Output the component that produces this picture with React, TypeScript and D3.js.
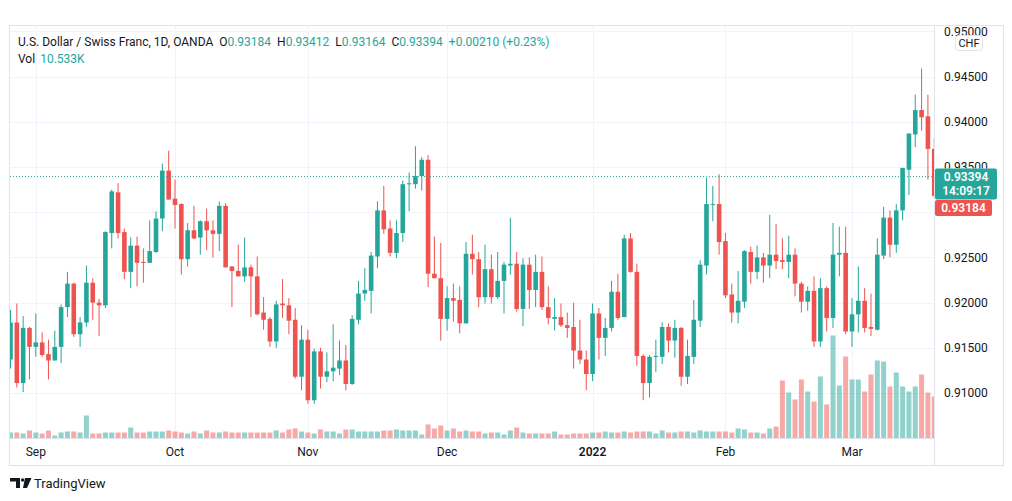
import React from "react";
import * as d3 from "d3";

// ---- Data (USD/CHF daily, OANDA) ----
const opens = [
  0.9137, 0.9178, 0.9111, 0.9172, 0.9151, 0.9156, 0.9143, 0.9136, 0.9151, 0.9195,
  0.9221, 0.9165, 0.9178, 0.9222, 0.92, 0.9197, 0.9277, 0.9322, 0.9278, 0.9234,
  0.9263, 0.9245, 0.9244, 0.9256, 0.9293, 0.9346, 0.9315, 0.9309, 0.9248, 0.928,
  0.9272, 0.929, 0.928, 0.9276, 0.9307, 0.924, 0.9235, 0.9229, 0.9239, 0.9229,
  0.9189, 0.9182, 0.9157, 0.9199, 0.9197, 0.9181, 0.9118, 0.9159, 0.9092, 0.9146,
  0.9118, 0.9124, 0.9127, 0.9136, 0.911, 0.9181, 0.921, 0.9213, 0.9251, 0.9302,
  0.9282, 0.9255, 0.9277, 0.9331, 0.9331, 0.934, 0.9358, 0.9232, 0.9227, 0.9182,
  0.9205, 0.9203, 0.9177, 0.9254, 0.9248, 0.9206, 0.9237, 0.9206, 0.9224, 0.9241,
  0.9243, 0.9193, 0.9242, 0.9214, 0.9234, 0.9195, 0.9182, 0.9184, 0.9175, 0.9173,
  0.9147, 0.9137, 0.9121, 0.9188, 0.9161, 0.9172, 0.9212, 0.9184, 0.9271, 0.9234,
  0.9141, 0.9111, 0.914, 0.914, 0.9173, 0.9158, 0.9172, 0.9118, 0.914, 0.918,
  0.9241, 0.9308, 0.9309, 0.9268, 0.9209, 0.9189, 0.9201, 0.9256, 0.9234, 0.925,
  0.9241, 0.9253, 0.9247, 0.9245, 0.9253, 0.9221, 0.9201, 0.9213, 0.9157, 0.9216,
  0.9183, 0.9253, 0.9255, 0.9168, 0.9187, 0.9202, 0.9173, 0.917, 0.9252, 0.9294,
  0.9264, 0.9302, 0.9347, 0.9386, 0.9413, 0.9406, 0.937, 0.93184,
];
const highs = [
  0.9192, 0.9199, 0.9185, 0.9173, 0.9188, 0.9167, 0.9159, 0.9169, 0.9198, 0.9234,
  0.9222, 0.9184, 0.9241, 0.9227, 0.9204, 0.9279, 0.9325, 0.9332, 0.9282, 0.9272,
  0.9273, 0.926, 0.9291, 0.9301, 0.9354, 0.9368, 0.9336, 0.931, 0.9288, 0.9307,
  0.9291, 0.9304, 0.9291, 0.9312, 0.931, 0.924, 0.9264, 0.9272, 0.9242, 0.9251,
  0.9206, 0.9184, 0.9202, 0.9226, 0.9205, 0.9194, 0.9175, 0.917, 0.9149, 0.915,
  0.9145, 0.9176, 0.9158, 0.9153, 0.9186, 0.9224, 0.9238, 0.9256, 0.9312, 0.9329,
  0.9291, 0.9291, 0.9335, 0.9344, 0.9373, 0.9361, 0.9363, 0.9273, 0.9266, 0.9218,
  0.9221, 0.9218, 0.9267, 0.9275, 0.9256, 0.9264, 0.9253, 0.9256, 0.9245, 0.9294,
  0.9256, 0.9249, 0.925, 0.9253, 0.9251, 0.9218, 0.9205, 0.9199, 0.9189, 0.92,
  0.9181, 0.9147, 0.9199, 0.9194, 0.9183, 0.9224, 0.9232, 0.9275, 0.9277, 0.9243,
  0.9143, 0.9142, 0.9159, 0.9178, 0.9177, 0.9181, 0.9173, 0.9159, 0.9203, 0.9247,
  0.9338, 0.9329, 0.9342, 0.9277, 0.9221, 0.9235, 0.9258, 0.9262, 0.9263, 0.9255,
  0.9297, 0.9287, 0.9271, 0.9274, 0.926, 0.9223, 0.9218, 0.9229, 0.9227, 0.9218,
  0.9288, 0.9284, 0.9284, 0.9205, 0.924, 0.9216, 0.921, 0.9271, 0.9306, 0.9302,
  0.9309, 0.9349, 0.9387, 0.943, 0.9459, 0.943, 0.9382, 0.93412,
];
const lows = [
  0.9127, 0.9106, 0.9101, 0.9115, 0.914, 0.914, 0.9115, 0.9136, 0.9133, 0.9184,
  0.9162, 0.9151, 0.9173, 0.9181, 0.9163, 0.9194, 0.926, 0.9271, 0.9226, 0.9216,
  0.9218, 0.9222, 0.9244, 0.9255, 0.9279, 0.9314, 0.9282, 0.9231, 0.924, 0.927,
  0.9253, 0.9258, 0.925, 0.9257, 0.9239, 0.9195, 0.9229, 0.9223, 0.9184, 0.9186,
  0.917, 0.9151, 0.915, 0.9183, 0.9165, 0.9116, 0.9103, 0.9088, 0.9088, 0.9105,
  0.9112, 0.9113, 0.912, 0.9103, 0.9109, 0.9176, 0.9202, 0.9188, 0.9238, 0.9276,
  0.9251, 0.9249, 0.9267, 0.9301, 0.9326, 0.9324, 0.9217, 0.9227, 0.9158, 0.9169,
  0.9179, 0.9166, 0.9177, 0.9231, 0.9195, 0.9199, 0.9199, 0.9204, 0.9188, 0.9231,
  0.919, 0.9174, 0.9193, 0.9195, 0.9192, 0.9176, 0.9169, 0.9173, 0.9161, 0.9127,
  0.9132, 0.9103, 0.9113, 0.9137, 0.9141, 0.9168, 0.9181, 0.9184, 0.9233, 0.913,
  0.9092, 0.9095, 0.9123, 0.9132, 0.9145, 0.9139, 0.9108, 0.911, 0.9132, 0.9173,
  0.9231, 0.929, 0.9253, 0.9205, 0.9178, 0.9177, 0.9194, 0.9221, 0.9226, 0.9222,
  0.9227, 0.9237, 0.9237, 0.9227, 0.9207, 0.9189, 0.9191, 0.9151, 0.9151, 0.9168,
  0.9172, 0.9229, 0.9165, 0.9151, 0.9167, 0.9167, 0.9163, 0.9169, 0.9248, 0.925,
  0.9255, 0.9291, 0.9319, 0.9372, 0.939, 0.9336, 0.9316, 0.93164,
];
const closes = [
  0.9178, 0.9111, 0.9172, 0.9151, 0.9156, 0.9142, 0.9136, 0.9151, 0.9195, 0.9221,
  0.9165, 0.9178, 0.9222, 0.92, 0.9197, 0.9278, 0.9323, 0.9277, 0.9234, 0.9263,
  0.9244, 0.9244, 0.9257, 0.9293, 0.9346, 0.9314, 0.9308, 0.9248, 0.928, 0.9271,
  0.929, 0.928, 0.9276, 0.9307, 0.9239, 0.9235, 0.9229, 0.9239, 0.9229, 0.9187,
  0.9181, 0.9157, 0.9198, 0.9197, 0.918, 0.9118, 0.9159, 0.9092, 0.9146, 0.9118,
  0.9124, 0.9128, 0.9136, 0.911, 0.9182, 0.921, 0.9214, 0.9252, 0.9302, 0.9281,
  0.9255, 0.9277, 0.9331, 0.9332, 0.934, 0.9358, 0.9232, 0.9227, 0.9182, 0.9205,
  0.9202, 0.9177, 0.9254, 0.9248, 0.9206, 0.9237, 0.9206, 0.9224, 0.9242, 0.9243,
  0.9193, 0.9242, 0.9214, 0.9234, 0.9195, 0.9183, 0.9184, 0.9175, 0.9172, 0.9147,
  0.9137, 0.9121, 0.9188, 0.9161, 0.9172, 0.9212, 0.9183, 0.9271, 0.9234, 0.9141,
  0.9111, 0.914, 0.9141, 0.9173, 0.9158, 0.9172, 0.9118, 0.9141, 0.9181, 0.9242,
  0.9309, 0.9309, 0.9267, 0.9208, 0.9189, 0.9202, 0.9257, 0.9234, 0.925, 0.9241,
  0.9253, 0.9246, 0.9245, 0.9253, 0.9221, 0.9201, 0.9213, 0.9157, 0.9216, 0.9183,
  0.9253, 0.9255, 0.9168, 0.9187, 0.9202, 0.9172, 0.9171, 0.9253, 0.9294, 0.9264,
  0.9302, 0.9349, 0.9387, 0.9413, 0.9405, 0.937, 0.9318, 0.93394,
];
// volume in thousands
const volumes = [
  3, 3, 2.5, 4, 3, 2.5, 4, 1.5, 3, 3.5,
  3.5, 3, 11.5, 2.5, 2.5, 3, 3, 3, 3, 5.5,
  3, 3, 3.5, 3.5, 3.5, 4, 3.5, 3, 2.5, 3.5,
  2.5, 4, 3, 3, 3.5, 3, 3, 3, 3, 3,
  3, 3, 4, 3, 4.5, 5, 3.5, 3, 2.5, 4.5,
  3.5, 3.5, 2.5, 4.5, 4.5, 3.5, 3.5, 3.5, 3.5, 4,
  4, 4.5, 4, 4, 4, 2, 7, 5, 6.5, 4,
  5, 3.5, 4, 3.5, 3.5, 2.5, 3, 3, 2, 4,
  5.5, 3, 2.5, 2.5, 2.5, 2.5, 3.5, 2, 2, 2.5,
  2.5, 2.5, 3, 3, 3.5, 3, 3, 3.5, 3, 3.5,
  3.5, 3.5, 2.5, 4, 3, 3, 3.5, 3.5, 3, 4,
  3.5, 3.5, 3.5, 3.5, 3, 5, 4.5, 3, 3, 2.5,
  5, 6, 29, 23, 19.5, 29.5, 23.5, 18.5, 31, 17,
  51.5, 26.5, 41, 29.5, 29.5, 23.5, 32, 39, 38.5, 26,
  33, 26, 23.5, 26, 32, 23, 21, 10.533,
];
const monthLabels = ["Sep", "Oct", "Nov", "Dec", "2022", "Feb", "Mar"];
const monthBarIndex = [4, 26, 47, 69, 92, 113, 133];
const priceTicks = [0.91, 0.915, 0.92, 0.925, 0.93, 0.935, 0.94, 0.945, 0.95];
const symbolTitle = "U.S. Dollar / Swiss Franc, 1D, OANDA";
const lastPrice = 0.93394;
const prevClose = 0.93184;
const countdown = "14:09:17";
const changeText = "+0.00210 (+0.23%)";
const volText = "10.533K";
const currency = "CHF";

const UP = "#26a69a";
const DOWN = "#ef5350";
const UP_V = "rgba(38,166,154,0.5)";
const DOWN_V = "rgba(239,83,80,0.5)";
const TXT = "#131722";
const GRID = "#f0f3fa";
const BORDER = "#e0e3eb";
const FONT = "Roboto, 'Open Sans', sans-serif";

export default function App() {
  const W = 1012;
  const H = 501;
  const paneL = 10, paneR = 934.5, paneT = 26, paneB = 438.5;
  const n = opens.length;
  const x = d3.scaleLinear().domain([0, n - 1]).range([10.5, 10.5 + (n - 1) * 6.327]);
  const y = d3.scaleLinear().domain([0.905, 0.95]).range([438.2, 31.4]);
  const vh = d3.scaleLinear().domain([0, 60]).range([0, 120]);
  const bodyW = 4.6;
  const volW = 5;
  const fmt = d3.format(".5f");

  const idx = d3.range(n);
  const lastY = y(lastPrice);
  // axis tick labels hidden beneath the price badges are not drawn
  const visibleTicks = priceTicks.filter((p) => {
    const ty = y(p);
    return !(ty > lastY + 8 && ty < 217);
  });

  return (
    <svg
      width={W}
      height={H}
      style={{ position: "absolute", left: 0, top: 0, background: "#fff" }}
      fontFamily={FONT}
    >
      <defs>
        <clipPath id="pane">
          <rect x={paneL} y={paneT} width={paneR - paneL} height={paneB - paneT} />
        </clipPath>
        <clipPath id="tickclip">
          <rect x={paneR} y={paneT} width={70} height={lastY - 8 - paneT} />
          <rect x={paneR} y={217} width={70} height={paneB - 217} />
        </clipPath>
      </defs>
      <rect x={0} y={0} width={W} height={H} fill="#fff" />
      {/* grid */}
      <g clipPath="url(#pane)">
        {priceTicks.map((p) => (
          <line key={p} x1={paneL} x2={paneR} y1={Math.round(y(p)) + 0.5} y2={Math.round(y(p)) + 0.5} stroke={GRID} />
        ))}
        {monthBarIndex.map((i) => (
          <line key={i} x1={Math.round(x(i)) + 0.5} x2={Math.round(x(i)) + 0.5} y1={paneT} y2={paneB} stroke={GRID} />
        ))}
      </g>
      {/* volume */}
      <g clipPath="url(#pane)">
        {idx.map((i) => (
          <rect
            key={i}
            x={x(i) - volW / 2}
            y={438.5 - vh(volumes[i])}
            width={volW}
            height={vh(volumes[i])}
            fill={closes[i] >= opens[i] ? UP_V : DOWN_V}
          />
        ))}
      </g>
      {/* candles */}
      <g clipPath="url(#pane)">
        {idx.map((i) => {
          const up = closes[i] >= opens[i];
          const c = up ? UP : DOWN;
          const top = y(Math.max(opens[i], closes[i]));
          const bot = y(Math.min(opens[i], closes[i]));
          return (
            <g key={i}>
              <line x1={x(i)} x2={x(i)} y1={y(highs[i])} y2={y(lows[i])} stroke={c} strokeWidth={1} />
              <rect x={x(i) - bodyW / 2} y={top} width={bodyW} height={Math.max(1, bot - top)} fill={c} />
            </g>
          );
        })}
        <line
          x1={paneL}
          x2={paneR}
          y1={lastY}
          y2={lastY}
          stroke={UP}
          strokeWidth={1}
          strokeDasharray="1,2"
        />
      </g>
      {/* frame */}
      <rect x={9.5} y={25.5} width={994} height={440} fill="none" stroke={BORDER} />
      <line x1={paneR} x2={paneR} y1={25.5} y2={465.5} stroke={BORDER} />
      <line x1={9.5} x2={paneR} y1={438.5} y2={438.5} stroke={BORDER} />
      {/* price axis labels */}
      <g clipPath="url(#tickclip)">
        {visibleTicks.map((p) => (
          <text key={p} x={944} y={y(p)} dy="0.35em" fontSize={12} fill={TXT}>
            {fmt(p)}
          </text>
        ))}
      </g>
      {/* currency badge */}
      <rect x={955.5} y={35.5} width={27} height={15} rx={3} fill="#fff" stroke={BORDER} />
      <text x={969} y={43} dy="0.35em" textAnchor="middle" fontSize={11} fill={TXT}>
        {currency}
      </text>
      {/* last price label */}
      <rect x={935} y={lastY - 8} width={62} height={31} rx={2} fill={UP} />
      <text x={966} y={lastY} dy="0.35em" textAnchor="middle" fontSize={12} fontWeight={600} fill="#fff">
        {fmt(lastPrice)}
      </text>
      <text x={966} y={lastY + 14.5} dy="0.35em" textAnchor="middle" fontSize={12} fontWeight={600} fill="#fff">
        {countdown}
      </text>
      <rect x={935} y={200} width={57} height={16} rx={2} fill={DOWN} />
      <text x={963.5} y={208} dy="0.35em" textAnchor="middle" fontSize={12} fontWeight={600} fill="#fff">
        {fmt(prevClose)}
      </text>
      {/* time axis */}
      {monthLabels.map((m, k) => (
        <text
          key={m}
          x={x(monthBarIndex[k])}
          y={452}
          dy="0.35em"
          textAnchor="middle"
          fontSize={12}
          fontWeight={m === "2022" ? 600 : 400}
          fill={TXT}
        >
          {m}
        </text>
      ))}
      {/* header legend */}
      <text x={18} y={46} fontSize={12} fill={TXT}>
        <tspan>{symbolTitle}</tspan>
        <tspan dx={6}>O</tspan>
        <tspan fill={UP}>{fmt(opens[n - 1])}</tspan>
        <tspan dx={6}>H</tspan>
        <tspan fill={UP}>{fmt(highs[n - 1])}</tspan>
        <tspan dx={6}>L</tspan>
        <tspan fill={UP}>{fmt(lows[n - 1])}</tspan>
        <tspan dx={6}>C</tspan>
        <tspan fill={UP}>{fmt(closes[n - 1])}</tspan>
        <tspan dx={6} fill={UP}>{changeText}</tspan>
      </text>
      <text x={18} y={63} fontSize={12} fill={TXT}>
        <tspan>Vol</tspan>
        <tspan dx={5} fill={UP}>{volText}</tspan>
      </text>
      {/* TradingView logo */}
      <g fill={TXT}>
        <path d="M10 478 H20 V488 H16 V481.5 H10 Z" />
        <circle cx={22.6} cy={480} r={1.7} />
        <path d="M25 478 H31.5 L27 488 H23 Z" />
      </g>
      <text x={34} y={487.5} fontSize={13} fill={TXT}>
        TradingView
      </text>
    </svg>
  );
}
